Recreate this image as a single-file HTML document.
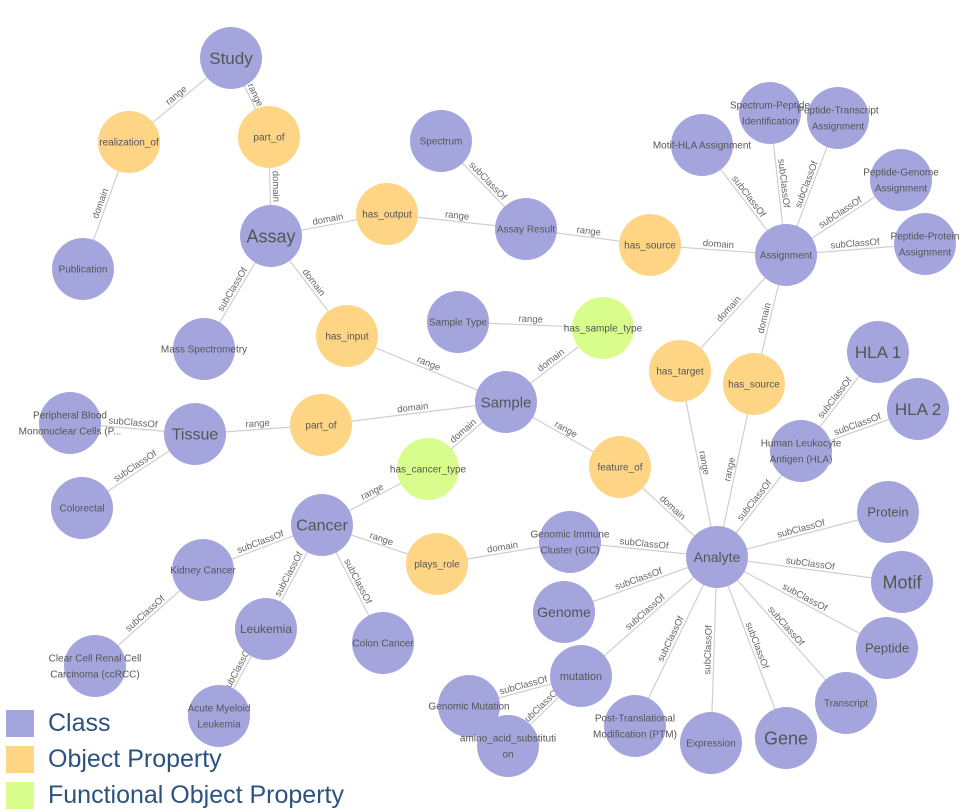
<!DOCTYPE html>
<html><head><meta charset="utf-8"><style>
html,body{margin:0;padding:0;background:#fff;width:974px;height:812px;overflow:hidden}
svg{display:block;font-family:"Liberation Sans",sans-serif}
.lg{position:absolute;left:6px;display:flex;align-items:center;font-family:"Liberation Sans",sans-serif;font-size:25px;color:#2c5282}
.sw{width:28px;height:27px;margin-right:14px}
</style></head><body>
<svg id="g" width="974" height="812"></svg>
<div class="lg" style="top:709px"><div class="sw" style="background:#a5a5de"></div>Class</div>
<div class="lg" style="top:745px"><div class="sw" style="background:#fed585"></div>Object Property</div>
<div class="lg" style="top:781px"><div class="sw" style="background:#d8fd8c"></div>Functional Object Property</div>
<script>
const nodeIds=["study","realization_of","part_of1","publication","assay","massspec","has_output","has_input","assayresult","spectrum","has_source1","assignment","motifhla","specpep","peptrans","pepgen","pepprot","sampletype","has_sample_type","sample","has_target","has_source2","hla1","hla2","hla","tissue","pbmc","colorectal","part_of2","has_cancer_type","feature_of","cancer","kidney","ccrcc","leukemia","aml","colon","plays_role","gic","analyte","protein","motif","peptide","transcript","gene","expression","ptm","mutation","genmut","amino","genome"];
const nodeLabels=["Study","realization_of","part_of","Publication","Assay","Mass Spectrometry","has_output","has_input","Assay Result","Spectrum","has_source","Assignment","Motif-HLA Assignment","Spectrum-Peptide\nIdentification","Peptide-Transcript\nAssignment","Peptide-Genome\nAssignment","Peptide-Protein\nAssignment","Sample Type","has_sample_type","Sample","has_target","has_source","HLA 1","HLA 2","Human Leukocyte\nAntigen (HLA)","Tissue","Peripheral Blood\nMononuclear Cells (P...","Colorectal","part_of","has_cancer_type","feature_of","Cancer","Kidney Cancer","Clear Cell Renal Cell\nCarcinoma (ccRCC)","Leukemia","Acute Myeloid\nLeukemia","Colon Cancer","plays_role","Genomic Immune\nCluster (GIC)","Analyte","Protein","Motif","Peptide","Transcript","Gene","Expression","Post-Translational\nModification (PTM)","mutation","Genomic Mutation","amino_acid_substituti\non","Genome"];
const nodeTypes=["c","o","o","c","c","c","o","o","c","c","o","c","c","c","c","c","c","c","f","c","o","o","c","c","c","c","c","c","o","f","o","c","c","c","c","c","c","o","c","c","c","c","c","c","c","c","c","c","c","c","c"];
const nodeX=[231,129,269,83,271,204,387,347,526,441,650,786,702,770,838,901,925,458,603,506,680,754,878,918,801,195,70,82,321,428,620,322,203,95,266,219,383,437,570,717,888,902,887,846,786,711,635,581,469,508,564];
const nodeY=[58,142,137,269,236,349,214,336,229,141,245,255,145,113,118,180,244,322,328,402,371,384,352,409,451,434,423,508,425,469,467,525,570,666,629,716,643,564,542,557,512,582,648,703,738,743,726,676,706,746,612];
const bigIds=["study","assay","tissue","sample","cancer","hla1","hla2","motif","gene","analyte","genome","protein","peptide","leukemia","mutation"];
const bigSizes=[17,18,16,15,16,17,17,18,18,14,14,13,13,12,11];
const edgeFrom=["study","realization_of","study","part_of1","assay","has_output","assay","has_input","assay","spectrum","assayresult","has_source1","assignment","assignment","assignment","assignment","assignment","assignment","assignment","has_target","has_source2","sampletype","has_sample_type","sample","part_of2","tissue","tissue","sample","has_cancer_type","sample","feature_of","cancer","plays_role","gic","cancer","cancer","cancer","kidney","leukemia","analyte","hla","hla","analyte","analyte","analyte","analyte","analyte","analyte","analyte","analyte","analyte","mutation","mutation"];
const edgeTo=["realization_of","publication","part_of1","assay","has_output","assayresult","has_input","sample","massspec","assayresult","has_source1","assignment","motifhla","specpep","peptrans","pepgen","pepprot","has_target","has_source2","analyte","analyte","has_sample_type","sample","part_of2","tissue","pbmc","colorectal","has_cancer_type","cancer","feature_of","analyte","plays_role","gic","analyte","kidney","leukemia","colon","ccrcc","aml","hla","hla1","hla2","protein","motif","peptide","transcript","gene","expression","ptm","mutation","genome","genmut","amino"];
const edgeLabels=["range","domain","range","domain","domain","range","domain","range","subClassOf","subClassOf","range","domain","subClassOf","subClassOf","subClassOf","subClassOf","subClassOf","domain","domain","range","range","range","domain","domain","range","subClassOf","subClassOf","domain","range","range","domain","range","domain","subClassOf","subClassOf","subClassOf","subClassOf","subClassOf","subClassOf","subClassOf","subClassOf","subClassOf","subClassOf","subClassOf","subClassOf","subClassOf","subClassOf","subClassOf","subClassOf","subClassOf","subClassOf","subClassOf","subClassOf"];
const NS="http://www.w3.org/2000/svg";
const svg=document.getElementById("g");
const colors={c:"#a5a5de",o:"#fed585",f:"#d8fd8c"};
function idx(id){return nodeIds.indexOf(id);}
function mk(t,a){const e=document.createElementNS(NS,t);for(const k in a)e.setAttribute(k,a[k]);return e;}
const eg=mk("g",{});svg.appendChild(eg);
const ng=mk("g",{});svg.appendChild(ng);
edgeFrom.forEach((f,i)=>{
  const a=idx(f),b=idx(edgeTo[i]);
  const x1=nodeX[a],y1=nodeY[a],x2=nodeX[b],y2=nodeY[b];
  const ln=mk("line",{x1:x1,y1:y1,x2:x2,y2:y2,stroke:"#cfcfcf","stroke-width":1.2});
  
  
  eg.appendChild(ln);
  let ang=Math.atan2(y2-y1,x2-x1)*180/Math.PI;
  if(ang>90)ang-=180;if(ang<-90)ang+=180;
  const mx=(x1+x2)/2,my=(y1+y2)/2;
  const t=mk("text",{x:mx,y:my-3,"font-size":9.5,fill:"#666","text-anchor":"middle",transform:`rotate(${ang} ${mx} ${my})`});
  t.textContent=edgeLabels[i];
  
  
  eg.appendChild(t);
});
nodeIds.forEach((id,i)=>{
  const g=mk("g",{});
  
  
  const bi=bigIds.indexOf(id);
  const r=31;
  g.appendChild(mk("circle",{cx:nodeX[i],cy:nodeY[i],r:r,fill:colors[nodeTypes[i]]}));
  const lines=nodeLabels[i].split("\n");
  const fs=bi>=0?bigSizes[bi]:10;
  const lh=fs*1.6;
  lines.forEach((l,k)=>{
    const t=mk("text",{x:nodeX[i],y:nodeY[i]+fs*0.35+(k-(lines.length-1)/2)*lh,"font-size":fs,fill:"#555","text-anchor":"middle"});
    t.textContent=l;
    g.appendChild(t);
  });
  ng.appendChild(g);
});
</script>
</body></html>
